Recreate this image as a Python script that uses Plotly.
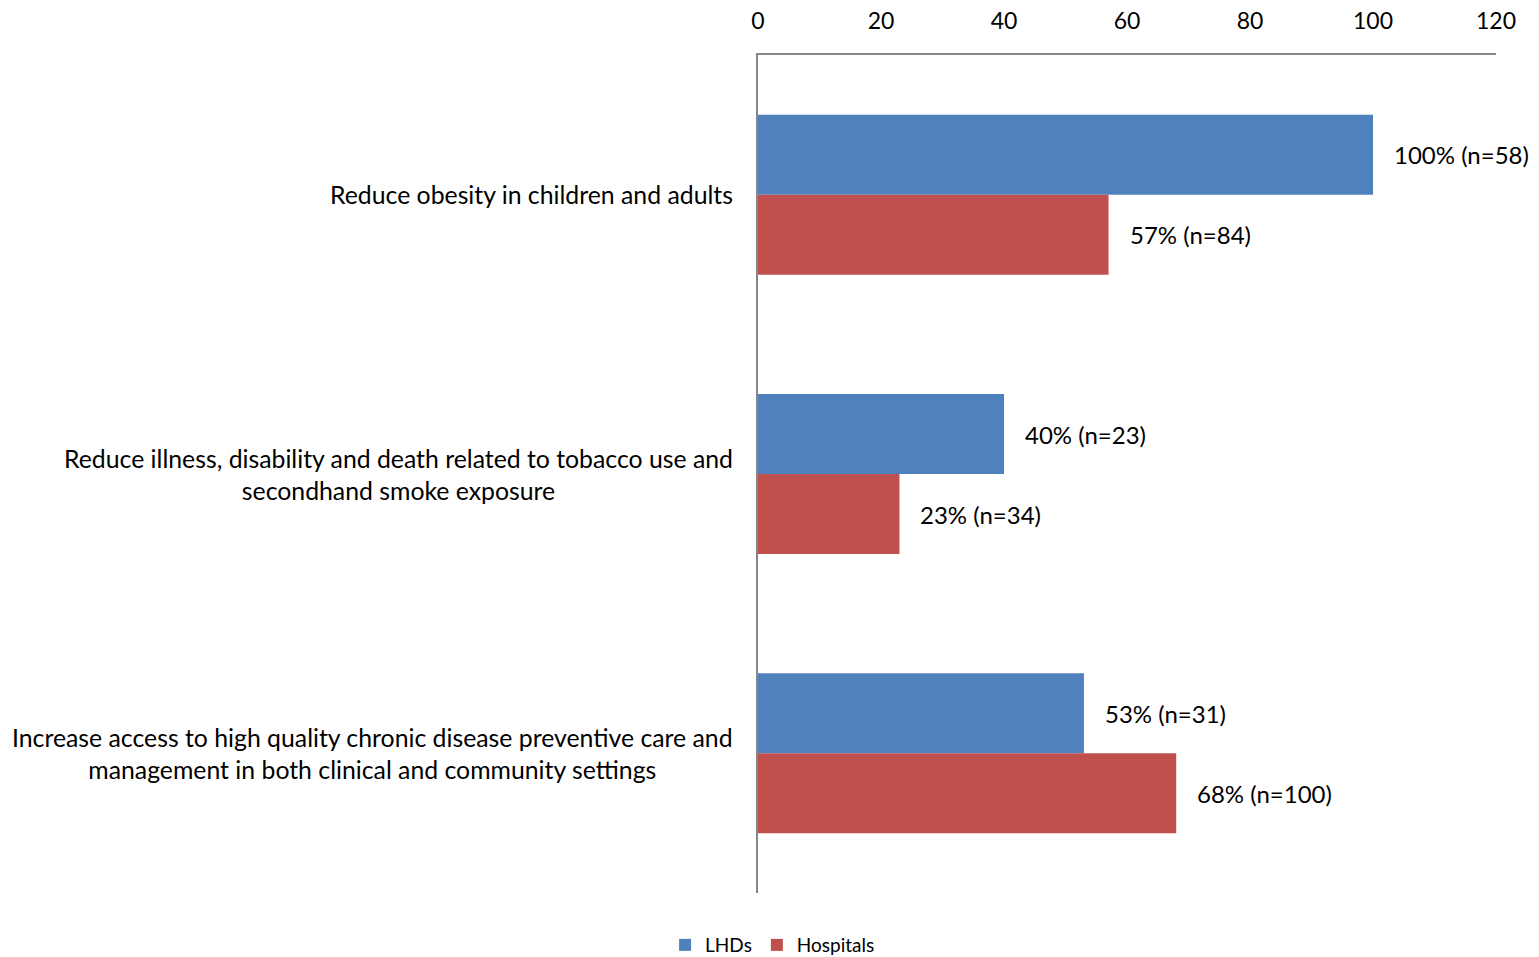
import plotly.graph_objects as go

categories = [
    "Reduce obesity in children and adults",
    "Reduce illness, disability and death related to tobacco use and<br>secondhand smoke exposure",
    "Increase access to high quality chronic disease preventive care and<br>management in both clinical and community settings",
]
lhd_values = [100, 40, 53]
hosp_values = [57, 23, 68]
lhd_labels = ["100% (n=58)", "40% (n=23)", "53% (n=31)"]
hosp_labels = ["57% (n=84)", "23% (n=34)", "68% (n=100)"]
x_ticks = [0, 20, 40, 60, 80, 100, 120]

FONT = "Lato, 'Open Sans', sans-serif"
BLUE = "#4F81BD"
RED = "#C0504D"
AXIS = "#868686"

fig = go.Figure()
fig.add_trace(go.Bar(y=categories, x=lhd_values, name="LHDs", orientation="h",
                     marker=dict(color=BLUE, line=dict(width=0))))
fig.add_trace(go.Bar(y=categories, x=hosp_values, name="Hospitals", orientation="h",
                     marker=dict(color=RED, line=dict(width=0))))

annotations = []
for cat, v, t in zip(categories, lhd_values, lhd_labels):
    annotations.append(dict(x=v, y=cat, text=t, showarrow=False, xanchor="left",
                            xshift=19, yshift=40, font=dict(size=24, color="black", family=FONT)))
for cat, v, t in zip(categories, hosp_values, hosp_labels):
    annotations.append(dict(x=v, y=cat, text=t, showarrow=False, xanchor="left",
                            xshift=19, yshift=-40, font=dict(size=24, color="black", family=FONT)))
for cat in categories:
    annotations.append(dict(x=0, xref="x", y=cat, text=cat, showarrow=False, xanchor="right",
                            xshift=-23, align="center",
                            font=dict(size=24.8, color="black", family=FONT)))

fig.update_layout(
    width=1539, height=957,
    margin=dict(l=758, r=43, t=55, b=64, autoexpand=False),
    paper_bgcolor="white", plot_bgcolor="white",
    barmode="group", bargap=0.427, bargroupgap=0,
    font=dict(family=FONT, size=22, color="black"),
    annotations=annotations,
    legend=dict(orientation="h", xref="container", yref="container", x=0.502, y=0.0125,
                xanchor="center", yanchor="middle", font=dict(size=19, family=FONT),
                traceorder="normal", itemwidth=30),
    xaxis=dict(side="top", range=[0, 120], tickvals=x_ticks, showgrid=False, zeroline=False,
               showline=True, linecolor=AXIS, linewidth=2, ticks="", ticklabelstandoff=15,
               automargin=False, tickfont=dict(size=23, family=FONT)),
    yaxis=dict(autorange="reversed", showticklabels=False, showgrid=False, zeroline=False,
               showline=True, linecolor=AXIS, linewidth=2, ticks="", automargin=False),
)

fig.write_html("out.html", config={"displayModeBar": False},
               post_script="document.body.style.margin='0';document.body.style.overflow='hidden';")
